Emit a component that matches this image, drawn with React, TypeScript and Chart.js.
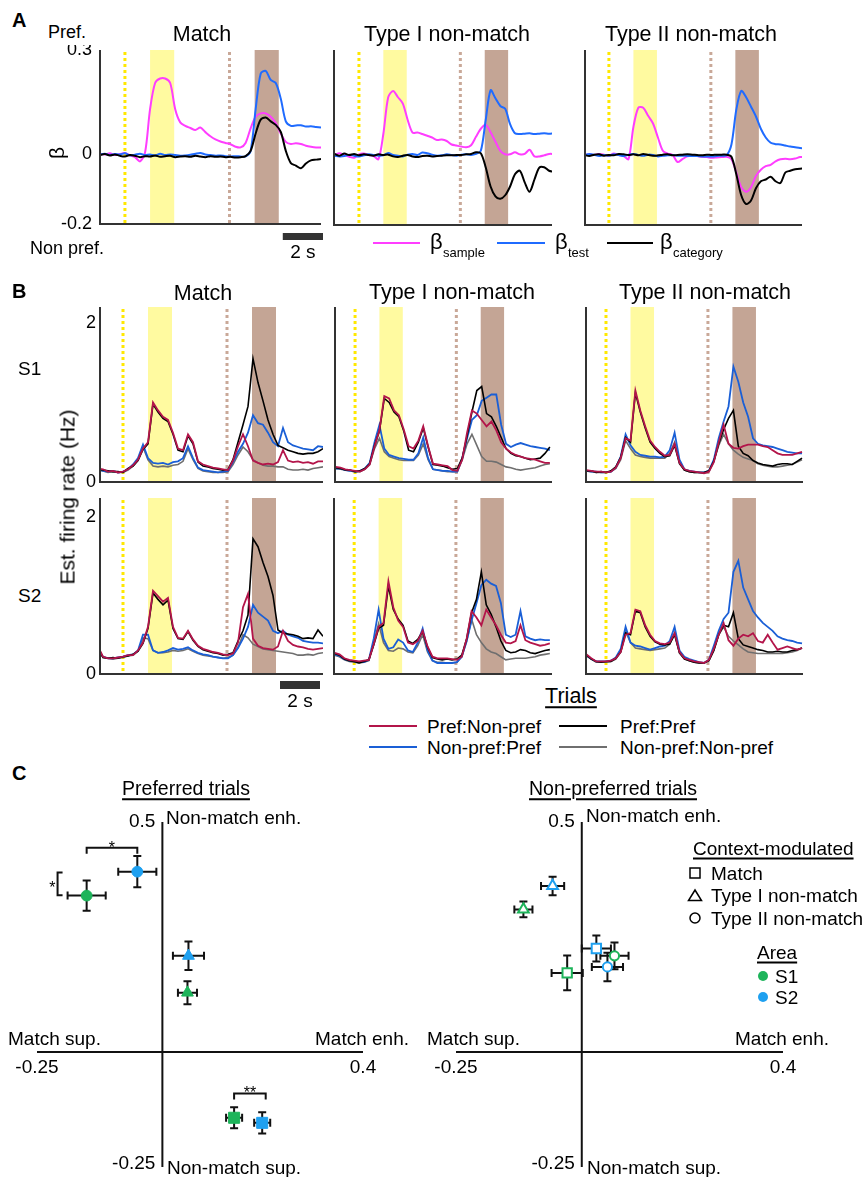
import React, { useEffect, useRef } from "react";
import { Chart, registerables } from "chart.js";
Chart.register(...registerables);

const FONT = '"Liberation Sans", Arial, Helvetica, sans-serif';

// ---------- time grid (s, relative to sample onset) ----------
const timeSec = [-2.5, -2.25, -2, -1.75, -1.5, -1.25, -1, -0.75, -0.5, -0.25, 0, 0.25, 0.5, 0.75, 1, 1.25, 1.5, 1.75, 2, 2.25, 2.5, 2.75, 3, 3.25, 3.5, 3.75, 4, 4.25, 4.5, 4.75, 5, 5.25, 5.5, 5.75, 6, 6.25, 6.5, 6.75, 7, 7.25, 7.5, 7.75, 8, 8.25, 8.5, 8.75];
const fixationOnset = -1.25;
const sampleWindow = [0, 1.2];
const delayMarker = 3.95;
const testWindow = [5.2, 6.4];

// ---------- Panel A: regression coefficients ----------
const betaTicks = [0.3, 0, -0.2];
const betaTickText = ["0.3", "0", "-0.2"];
const aMatchSample = [0.002, 0.0, 0.003, -0.002, 0.001, 0.004, -0.003, -0.008, -0.02, 0.005, 0.13, 0.205, 0.218, 0.218, 0.205, 0.13, 0.092, 0.082, 0.076, 0.07, 0.077, 0.064, 0.052, 0.043, 0.037, 0.033, 0.029, 0.022, 0.02, 0.033, 0.075, 0.108, 0.118, 0.118, 0.108, 0.09, 0.06, 0.036, 0.03, 0.032, 0.03, 0.025, 0.022, 0.02, 0.02, 0.02];
const aMatchTest = [0.0, 0.002, -0.002, 0.001, 0.0, 0.003, -0.003, -0.001, 0.002, -0.002, 0.0, -0.003, 0.002, -0.002, 0.0, -0.002, -0.004, -0.003, -0.001, 0.002, 0.004, 0.0, -0.002, -0.004, -0.003, -0.005, -0.006, -0.005, -0.006, -0.006, 0.01, 0.13, 0.232, 0.24, 0.214, 0.205, 0.16, 0.095, 0.082, 0.083, 0.084, 0.08, 0.081, 0.079, 0.077, 0.075];
const aMatchCategory = [-0.002, 0.001, -0.003, 0.0, -0.004, -0.006, -0.002, -0.004, -0.008, -0.005, -0.006, -0.003, -0.007, -0.005, -0.004, -0.008, -0.006, -0.005, -0.007, -0.004, -0.006, -0.008, -0.005, -0.007, -0.006, -0.008, -0.007, -0.009, -0.008, -0.005, 0.01, 0.06, 0.1, 0.106, 0.095, 0.085, 0.065, 0.01, -0.025, -0.032, -0.04, -0.026, -0.017, -0.015, -0.013, -0.012];
const aType1Sample = [0.0, 0.005, 0.0, -0.005, -0.008, 0.002, 0.004, 0.0, -0.003, -0.012, 0.06, 0.165, 0.183, 0.165, 0.147, 0.1, 0.064, 0.064, 0.06, 0.055, 0.05, 0.043, 0.044, 0.04, 0.03, 0.027, 0.024, 0.022, 0.028, 0.052, 0.075, 0.086, 0.065, 0.038, 0.012, 0.002, 0.002, 0.008, 0.002, 0.003, 0.015, -0.004, -0.004, -0.001, 0.003, 0.003];
const aType1Test = [-0.002, -0.004, -0.003, 0.001, -0.002, -0.004, -0.001, 0.002, 0.0, -0.002, -0.001, 0.006, 0.0, -0.002, -0.004, 0.001, 0.003, 0.0, 0.007, 0.005, 0.001, -0.002, -0.001, 0.002, 0.0, -0.002, 0.001, 0.002, 0.0, 0.003, 0.012, 0.1, 0.185, 0.162, 0.14, 0.132, 0.088, 0.062, 0.06, 0.061, 0.062, 0.06, 0.061, 0.062, 0.061, 0.062];
const aType1Category = [0.003, -0.002, 0.004, 0.0, 0.003, -0.001, 0.002, 0.0, -0.002, 0.002, 0.0, 0.001, -0.004, -0.006, -0.002, 0.0, -0.004, -0.006, -0.003, -0.002, -0.004, -0.003, -0.002, -0.001, -0.001, 0.0, 0.0, 0.002, 0.003, 0.008, 0.005, -0.035, -0.09, -0.118, -0.125, -0.115, -0.09, -0.055, -0.045, -0.078, -0.105, -0.07, -0.036, -0.035, -0.045, -0.048];
const aType2Sample = [0.0, 0.002, 0.0, 0.003, 0.001, -0.002, 0.004, 0.0, -0.003, -0.012, 0.08, 0.135, 0.135, 0.112, 0.09, 0.05, 0.012, 0.004, 0.0, -0.02, -0.012, -0.004, -0.002, -0.003, -0.005, -0.006, -0.008, -0.007, -0.006, -0.005, -0.012, -0.05, -0.092, -0.105, -0.092, -0.06, -0.042, -0.032, -0.028, -0.018, -0.012, -0.011, -0.012, -0.01, -0.006, -0.005];
const aType2Test = [0.0, 0.003, 0.001, -0.003, 0.0, -0.002, 0.002, 0.0, -0.003, 0.001, 0.003, 0.0, -0.002, 0.001, 0.0, -0.004, -0.002, -0.001, 0.0, -0.002, -0.002, -0.003, -0.003, -0.003, -0.004, -0.004, -0.004, -0.003, -0.002, -0.001, 0.03, 0.13, 0.183, 0.165, 0.138, 0.11, 0.075, 0.05, 0.035, 0.031, 0.03, 0.027, 0.024, 0.022, 0.02, 0.019];
const aType2Category = [0.0, -0.003, 0.001, 0.002, -0.002, 0.0, -0.001, 0.003, 0.002, 0.0, 0.002, -0.001, 0.003, 0.0, -0.002, -0.001, 0.001, 0.002, -0.001, 0.0, 0.001, 0.002, 0.001, 0.0, -0.001, 0.001, 0.0, 0.001, 0.001, 0.001, -0.005, -0.055, -0.115, -0.14, -0.13, -0.095, -0.075, -0.07, -0.062, -0.075, -0.08, -0.05, -0.045, -0.041, -0.039, -0.038];

// ---------- Panel B: estimated firing rates (Hz) ----------
const rateTicks = [2, 0];
const rateTickText = ["2", "0"];
const s1MatchPrefNon = [0.17, 0.16, 0.13, 0.14, 0.12, 0.13, 0.16, 0.21, 0.28, 0.42, 0.5, 1.0, 0.9, 0.82, 0.78, 0.62, 0.42, 0.4, 0.6, 0.5, 0.26, 0.22, 0.2, 0.18, 0.17, 0.16, 0.15, 0.27, 0.45, 0.6, 0.45, 0.27, 0.24, 0.22, 0.23, 0.22, 0.25, 0.4, 0.27, 0.25, 0.26, 0.24, 0.25, 0.23, 0.26, 0.26];
const s1MatchPrefPref = [0.16, 0.15, 0.14, 0.13, 0.13, 0.12, 0.17, 0.2, 0.27, 0.41, 0.48, 0.98, 0.88, 0.8, 0.76, 0.6, 0.4, 0.38, 0.58, 0.48, 0.25, 0.2, 0.19, 0.17, 0.16, 0.15, 0.16, 0.28, 0.5, 0.72, 0.95, 1.55, 1.25, 1.02, 0.78, 0.6, 0.46, 0.43, 0.4, 0.38, 0.36, 0.35, 0.36, 0.36, 0.38, 0.42];
const s1MatchNonPref = [0.16, 0.14, 0.13, 0.14, 0.12, 0.13, 0.16, 0.22, 0.3, 0.47, 0.3, 0.24, 0.23, 0.24, 0.22, 0.25, 0.26, 0.3, 0.45, 0.3, 0.18, 0.15, 0.14, 0.13, 0.12, 0.13, 0.14, 0.25, 0.38, 0.48, 0.62, 0.84, 0.74, 0.72, 0.62, 0.5, 0.45, 0.68, 0.5, 0.46, 0.44, 0.42, 0.41, 0.4, 0.45, 0.44];
const s1MatchNonNon = [0.15, 0.14, 0.12, 0.13, 0.12, 0.12, 0.15, 0.2, 0.28, 0.44, 0.28, 0.2, 0.19, 0.2, 0.19, 0.21, 0.22, 0.26, 0.42, 0.28, 0.17, 0.14, 0.13, 0.12, 0.12, 0.12, 0.13, 0.22, 0.34, 0.44, 0.38, 0.28, 0.24, 0.21, 0.2, 0.2, 0.19, 0.19, 0.16, 0.15, 0.15, 0.16, 0.15, 0.17, 0.18, 0.19];
const s1Type1PrefNon = [0.2, 0.19, 0.18, 0.16, 0.15, 0.14, 0.13, 0.16, 0.22, 0.45, 0.65, 1.08, 1.05, 0.9, 0.84, 0.66, 0.45, 0.42, 0.52, 0.7, 0.45, 0.23, 0.22, 0.21, 0.2, 0.15, 0.14, 0.28, 0.62, 0.9, 0.86, 0.78, 0.7, 0.76, 0.65, 0.5, 0.42, 0.37, 0.34, 0.32, 0.3, 0.29, 0.28, 0.26, 0.24, 0.24];
const s1Type1PrefPref = [0.19, 0.18, 0.17, 0.15, 0.15, 0.13, 0.14, 0.17, 0.23, 0.46, 0.64, 1.05, 1.0, 0.88, 0.82, 0.64, 0.4, 0.38, 0.5, 0.68, 0.44, 0.22, 0.21, 0.2, 0.18, 0.16, 0.17, 0.3, 0.58, 0.88, 1.15, 1.2, 0.86, 0.82, 0.7, 0.56, 0.42, 0.36, 0.33, 0.32, 0.3, 0.28, 0.29, 0.3, 0.36, 0.44];
const s1Type1NonPref = [0.18, 0.17, 0.17, 0.15, 0.14, 0.13, 0.14, 0.17, 0.24, 0.5, 0.72, 0.42, 0.34, 0.32, 0.3, 0.29, 0.28, 0.28, 0.36, 0.56, 0.3, 0.16, 0.15, 0.14, 0.14, 0.13, 0.13, 0.3, 0.55, 0.78, 0.84, 1.02, 1.06, 1.1, 1.1, 0.72, 0.48, 0.44, 0.47, 0.49, 0.47, 0.45, 0.44, 0.43, 0.42, 0.4];
const s1Type1NonNon = [0.18, 0.17, 0.16, 0.15, 0.14, 0.13, 0.13, 0.16, 0.22, 0.42, 0.55, 0.38, 0.32, 0.3, 0.28, 0.27, 0.27, 0.27, 0.34, 0.48, 0.28, 0.16, 0.15, 0.14, 0.13, 0.13, 0.13, 0.28, 0.48, 0.6, 0.46, 0.32, 0.26, 0.26, 0.25, 0.22, 0.19, 0.18, 0.16, 0.15, 0.16, 0.17, 0.18, 0.2, 0.22, 0.23];
const s1Type2PrefNon = [0.16, 0.15, 0.14, 0.13, 0.13, 0.12, 0.13, 0.18, 0.3, 0.55, 0.52, 1.15, 0.9, 0.7, 0.52, 0.44, 0.38, 0.33, 0.34, 0.48, 0.24, 0.16, 0.14, 0.13, 0.12, 0.11, 0.13, 0.25, 0.5, 0.72, 0.48, 0.43, 0.42, 0.45, 0.47, 0.47, 0.47, 0.45, 0.44, 0.4, 0.36, 0.34, 0.34, 0.34, 0.36, 0.38];
const s1Type2PrefPref = [0.15, 0.14, 0.14, 0.12, 0.13, 0.12, 0.14, 0.19, 0.31, 0.56, 0.5, 1.12, 0.88, 0.68, 0.5, 0.42, 0.36, 0.32, 0.33, 0.46, 0.23, 0.15, 0.13, 0.12, 0.12, 0.12, 0.14, 0.26, 0.48, 0.66, 0.8, 0.9, 0.45, 0.36, 0.33, 0.27, 0.24, 0.22, 0.21, 0.2, 0.22, 0.23, 0.23, 0.22, 0.26, 0.3];
const s1Type2NonPref = [0.15, 0.14, 0.13, 0.13, 0.12, 0.12, 0.13, 0.18, 0.32, 0.6, 0.46, 0.38, 0.34, 0.33, 0.32, 0.32, 0.31, 0.32, 0.4, 0.62, 0.28, 0.16, 0.14, 0.13, 0.12, 0.12, 0.14, 0.28, 0.55, 0.76, 0.95, 1.45, 1.26, 1.0, 0.82, 0.55, 0.48, 0.46, 0.45, 0.44, 0.42, 0.4, 0.38, 0.37, 0.36, 0.36];
const s1Type2NonNon = [0.15, 0.14, 0.13, 0.12, 0.12, 0.12, 0.13, 0.17, 0.28, 0.52, 0.42, 0.34, 0.32, 0.31, 0.3, 0.3, 0.3, 0.3, 0.36, 0.5, 0.25, 0.15, 0.13, 0.12, 0.12, 0.11, 0.13, 0.26, 0.46, 0.6, 0.48, 0.4, 0.35, 0.31, 0.29, 0.27, 0.23, 0.21, 0.2, 0.19, 0.19, 0.2, 0.21, 0.22, 0.25, 0.28];
const s2MatchPrefNon = [0.35, 0.22, 0.2, 0.2, 0.21, 0.22, 0.24, 0.24, 0.3, 0.4, 0.6, 1.06, 0.99, 0.92, 0.97, 0.6, 0.46, 0.45, 0.55, 0.44, 0.36, 0.32, 0.3, 0.28, 0.27, 0.25, 0.24, 0.26, 0.4, 0.85, 1.02, 0.45, 0.36, 0.33, 0.32, 0.31, 0.35, 0.55, 0.42, 0.37, 0.35, 0.34, 0.32, 0.31, 0.32, 0.33];
const s2MatchPrefPref = [0.34, 0.21, 0.2, 0.21, 0.2, 0.22, 0.23, 0.25, 0.29, 0.39, 0.58, 1.03, 0.95, 0.88, 0.94, 0.58, 0.45, 0.44, 0.54, 0.43, 0.35, 0.31, 0.29, 0.27, 0.26, 0.24, 0.25, 0.27, 0.42, 0.55, 0.75, 1.72, 1.62, 1.42, 1.24, 1.0, 0.56, 0.52, 0.51, 0.5, 0.48, 0.45, 0.46, 0.45, 0.56, 0.48];
const s2MatchNonPref = [0.32, 0.22, 0.2, 0.2, 0.21, 0.22, 0.24, 0.25, 0.3, 0.5, 0.5, 0.3, 0.27, 0.28, 0.3, 0.33, 0.31, 0.32, 0.34, 0.3, 0.27, 0.25, 0.24, 0.22, 0.21, 0.2, 0.2, 0.24, 0.33, 0.45, 0.6, 0.88, 0.78, 0.73, 0.68, 0.55, 0.52, 0.55, 0.5, 0.48, 0.46, 0.42, 0.41, 0.4, 0.4, 0.39];
const s2MatchNonNon = [0.3, 0.21, 0.2, 0.19, 0.2, 0.21, 0.23, 0.24, 0.29, 0.46, 0.45, 0.3, 0.27, 0.27, 0.28, 0.3, 0.29, 0.3, 0.32, 0.29, 0.26, 0.24, 0.23, 0.22, 0.21, 0.2, 0.21, 0.24, 0.34, 0.5, 0.46, 0.38, 0.35, 0.32, 0.31, 0.3, 0.29, 0.28, 0.27, 0.26, 0.24, 0.24, 0.25, 0.24, 0.26, 0.27];
const s2Type1PrefNon = [0.28, 0.27, 0.25, 0.2, 0.18, 0.17, 0.16, 0.17, 0.18, 0.38, 0.6, 0.65, 1.18, 0.85, 0.68, 0.6, 0.4, 0.38, 0.42, 0.55, 0.35, 0.22, 0.2, 0.2, 0.2, 0.19, 0.18, 0.22, 0.45, 0.8, 0.72, 0.62, 0.82, 0.72, 0.62, 0.5, 0.4, 0.39, 0.42, 0.62, 0.43, 0.4, 0.38, 0.36, 0.37, 0.39];
const s2Type1PrefPref = [0.27, 0.26, 0.24, 0.19, 0.17, 0.16, 0.14, 0.16, 0.18, 0.37, 0.58, 0.62, 1.12, 0.82, 0.7, 0.62, 0.42, 0.39, 0.44, 0.54, 0.34, 0.21, 0.19, 0.18, 0.19, 0.18, 0.19, 0.24, 0.45, 0.78, 0.95, 1.3, 0.88, 0.76, 0.6, 0.42, 0.3, 0.27, 0.28, 0.31, 0.3, 0.27, 0.26, 0.28, 0.3, 0.31];
const s2Type1NonPref = [0.26, 0.25, 0.23, 0.19, 0.17, 0.16, 0.15, 0.15, 0.18, 0.45, 0.82, 0.45, 0.32, 0.34, 0.44, 0.4, 0.3, 0.28, 0.4, 0.58, 0.3, 0.17, 0.14, 0.14, 0.14, 0.14, 0.15, 0.22, 0.42, 0.68, 0.9, 1.13, 1.2, 1.15, 1.12, 0.9, 0.5, 0.47, 0.5, 0.8, 0.48, 0.45, 0.43, 0.44, 0.43, 0.43];
const s2Type1NonNon = [0.26, 0.24, 0.22, 0.18, 0.16, 0.15, 0.14, 0.15, 0.17, 0.4, 0.64, 0.4, 0.3, 0.29, 0.33, 0.32, 0.28, 0.27, 0.36, 0.5, 0.28, 0.17, 0.15, 0.15, 0.14, 0.14, 0.15, 0.22, 0.42, 0.7, 0.5, 0.4, 0.32, 0.28, 0.26, 0.22, 0.18, 0.19, 0.2, 0.2, 0.2, 0.21, 0.22, 0.24, 0.25, 0.26];
const s2Type2PrefNon = [0.26, 0.25, 0.2, 0.16, 0.16, 0.16, 0.17, 0.2, 0.28, 0.5, 0.52, 0.82, 0.8, 0.62, 0.5, 0.42, 0.39, 0.38, 0.4, 0.52, 0.28, 0.2, 0.18, 0.16, 0.15, 0.14, 0.18, 0.32, 0.5, 0.65, 0.43, 0.36, 0.45, 0.5, 0.48, 0.52, 0.42, 0.4, 0.5, 0.4, 0.31, 0.33, 0.35, 0.33, 0.31, 0.33];
const s2Type2PrefPref = [0.25, 0.24, 0.19, 0.16, 0.15, 0.16, 0.16, 0.2, 0.28, 0.52, 0.5, 0.8, 0.78, 0.6, 0.48, 0.41, 0.38, 0.37, 0.38, 0.5, 0.27, 0.19, 0.17, 0.15, 0.14, 0.14, 0.17, 0.3, 0.5, 0.62, 0.6, 0.78, 0.45, 0.37, 0.35, 0.33, 0.31, 0.3, 0.28, 0.28, 0.29, 0.28, 0.28, 0.3, 0.31, 0.33];
const s2Type2NonPref = [0.25, 0.24, 0.19, 0.16, 0.16, 0.16, 0.17, 0.21, 0.32, 0.6, 0.4, 0.36, 0.35, 0.33, 0.31, 0.33, 0.35, 0.36, 0.42, 0.6, 0.3, 0.22, 0.19, 0.17, 0.15, 0.14, 0.18, 0.36, 0.55, 0.7, 0.78, 1.3, 1.44, 1.1, 0.95, 0.8, 0.72, 0.65, 0.6, 0.55, 0.48, 0.45, 0.43, 0.42, 0.4, 0.39];
const s2Type2NonNon = [0.24, 0.23, 0.19, 0.15, 0.15, 0.15, 0.16, 0.19, 0.28, 0.54, 0.4, 0.33, 0.32, 0.31, 0.3, 0.31, 0.32, 0.33, 0.38, 0.52, 0.27, 0.2, 0.17, 0.15, 0.14, 0.14, 0.17, 0.3, 0.5, 0.6, 0.48, 0.42, 0.37, 0.32, 0.28, 0.27, 0.26, 0.26, 0.26, 0.26, 0.26, 0.26, 0.27, 0.28, 0.3, 0.33];

// ---------- Panel C: context modulation indices ----------
// order of points in every array: Match, Type I non-match, Type II non-match
const contextStyles = ["rect", "triangle", "circle"];
const prefS1X = [0.143, 0.05, -0.151];
const prefS1Y = [-0.143, 0.129, 0.34];
const prefS1XErr = [0.016, 0.019, 0.038];
const prefS1YErr = [0.023, 0.025, 0.033];
const prefS2X = [0.199, 0.052, -0.05];
const prefS2Y = [-0.154, 0.209, 0.392];
const prefS2XErr = [0.016, 0.031, 0.038];
const prefS2YErr = [0.023, 0.031, 0.034];
const nonprefS1X = [-0.029, -0.116, 0.065];
const nonprefS1Y = [0.172, 0.31, 0.209];
const nonprefS1XErr = [0.031, 0.018, 0.028];
const nonprefS1YErr = [0.038, 0.017, 0.029];
const nonprefS2X = [0.029, -0.058, 0.051];
const nonprefS2Y = [0.225, 0.361, 0.185];
const nonprefS2XErr = [0.029, 0.023, 0.031];
const nonprefS2YErr = [0.028, 0.02, 0.031];
const prefBrackets = [
  { kind: "h", from: -0.151, to: -0.05, at: 0.444, label: "*" },
  { kind: "v", from: 0.39, to: 0.341, at: -0.209, label: "*" },
  { kind: "h", from: 0.143, to: 0.206, at: -0.09, label: "**" },
];

// ---------- colours ----------
const COL_SAMPLE = "#ff3dff";
const COL_TEST = "#1f6bff";
const COL_CAT = "#000000";
const COL_PN = "#b3154a";
const COL_PP = "#000000";
const COL_NP = "#1a5fd6";
const COL_NN = "#6f6f6f";
const COL_S1 = "#1db45a";
const COL_S2 = "#1ea0f0";
const SAMPLE_BAND = "#fffaa0";
const TEST_BAND = "#c4a595";
const FIX_LINE = "#ffe800";
const DELAY_LINE = "#c9a898";
const AXIS = "#333333";

// ---------- plugins ----------
const trialFramePlugin = {
  id: "trialFrame",
  beforeDatasetsDraw(chart: any) {
    const { ctx, chartArea: a } = chart;
    const x = chart.scales.x;
    ctx.save();
    const band = (w: number[], color: string) => {
      const p0 = x.getPixelForValue(w[0]);
      const p1 = x.getPixelForValue(w[1]);
      ctx.fillStyle = color;
      ctx.fillRect(p0, a.top, p1 - p0, a.bottom - a.top);
    };
    band(sampleWindow, SAMPLE_BAND);
    band(testWindow, TEST_BAND);
    const dotted = (t: number, color: string) => {
      const p = x.getPixelForValue(t);
      ctx.strokeStyle = color;
      ctx.lineWidth = 3;
      ctx.setLineDash([3, 3]);
      ctx.beginPath();
      ctx.moveTo(p, a.top + 2);
      ctx.lineTo(p, a.bottom);
      ctx.stroke();
    };
    dotted(fixationOnset, FIX_LINE);
    dotted(delayMarker, DELAY_LINE);
    ctx.restore();
  },
  afterDatasetsDraw(chart: any, _args: any, opts: any) {
    const { ctx, chartArea: a } = chart;
    const x = chart.scales.x;
    const y = chart.scales.y;
    ctx.save();
    ctx.setLineDash([]);
    ctx.strokeStyle = AXIS;
    ctx.lineWidth = 2;
    ctx.beginPath();
    ctx.moveTo(a.left, a.top);
    ctx.lineTo(a.left, a.bottom);
    ctx.lineTo(a.right, a.bottom);
    ctx.stroke();
    ctx.fillStyle = "#000";
    ctx.font = `${opts.tickSize || 18}px ${FONT}`;
    ctx.textAlign = "right";
    ctx.textBaseline = "middle";
    (opts.yTicks || []).forEach((v: number, i: number) => {
      ctx.fillText(opts.yTickText[i], a.left - opts.tickGap, y.getPixelForValue(v));
    });
    if (opts.scaleBar) {
      const sb = opts.scaleBar;
      const len = x.getPixelForValue(x.min + sb.seconds) - x.getPixelForValue(x.min);
      const right = a.right + sb.dx;
      ctx.fillStyle = "#333";
      ctx.fillRect(right - len, a.bottom + sb.dy, len, sb.h);
      ctx.fillStyle = "#000";
      ctx.textAlign = "center";
      ctx.font = `19px ${FONT}`;
      ctx.fillText(sb.label, right - len / 2, a.bottom + sb.labelDy);
    }
    ctx.restore();
  },
};

const quadrantPlugin = {
  id: "quadrant",
  beforeDatasetsDraw(chart: any, _args: any, opts: any) {
    const { ctx } = chart;
    const x = chart.scales.x;
    const y = chart.scales.y;
    const x0 = x.getPixelForValue(0);
    const y0 = y.getPixelForValue(0);
    ctx.save();
    ctx.strokeStyle = "#111";
    ctx.lineWidth = 2;
    ctx.beginPath();
    ctx.moveTo(x.getPixelForValue(x.min), y0);
    ctx.lineTo(x.getPixelForValue(x.max), y0);
    ctx.moveTo(x0, y.getPixelForValue(y.max));
    ctx.lineTo(x0, y.getPixelForValue(y.min));
    ctx.stroke();
    // end tick labels
    ctx.fillStyle = "#000";
    ctx.font = `19px ${FONT}`;
    ctx.textBaseline = "middle";
    ctx.textAlign = "center";
    [x.min, x.max].forEach((v: number) => ctx.fillText(opts.fmt(v), x.getPixelForValue(v), y0 + 16));
    ctx.textAlign = "right";
    ctx.fillText(opts.fmt(y.max), x0 - 7, y.getPixelForValue(y.max));
    ctx.fillText(opts.fmt(y.min), x0 - 7, y.getPixelForValue(y.min) - 3);
    // error bars
    ctx.strokeStyle = "#111";
    ctx.lineWidth = 2;
    const cap = 4;
    chart.data.datasets.forEach((ds: any) => {
      ds.data.forEach((pt: any, i: number) => {
        const px = x.getPixelForValue(pt.x);
        const py = y.getPixelForValue(pt.y);
        const xl = x.getPixelForValue(pt.x - ds.xErr[i]);
        const xr = x.getPixelForValue(pt.x + ds.xErr[i]);
        const yt = y.getPixelForValue(pt.y + ds.yErr[i]);
        const yb = y.getPixelForValue(pt.y - ds.yErr[i]);
        ctx.beginPath();
        ctx.moveTo(xl, py); ctx.lineTo(xr, py);
        ctx.moveTo(xl, py - cap); ctx.lineTo(xl, py + cap);
        ctx.moveTo(xr, py - cap); ctx.lineTo(xr, py + cap);
        ctx.moveTo(px, yt); ctx.lineTo(px, yb);
        ctx.moveTo(px - cap, yt); ctx.lineTo(px + cap, yt);
        ctx.moveTo(px - cap, yb); ctx.lineTo(px + cap, yb);
        ctx.stroke();
      });
    });
    // significance brackets
    (opts.brackets || []).forEach((b: any) => {
      ctx.lineWidth = 2;
      ctx.beginPath();
      ctx.font = `16px ${FONT}`;
      ctx.textBaseline = "alphabetic";
      if (b.kind === "h") {
        const a1 = x.getPixelForValue(b.from);
        const a2 = x.getPixelForValue(b.to);
        const yy = y.getPixelForValue(b.at);
        ctx.moveTo(a1, yy + 6); ctx.lineTo(a1, yy); ctx.lineTo(a2, yy); ctx.lineTo(a2, yy + 6);
        ctx.stroke();
        ctx.textAlign = "center";
        ctx.fillText(b.label, (a1 + a2) / 2, yy + 5);
      } else {
        const b1 = y.getPixelForValue(b.from);
        const b2 = y.getPixelForValue(b.to);
        const xx = x.getPixelForValue(b.at);
        ctx.moveTo(xx + 5, b1); ctx.lineTo(xx, b1); ctx.lineTo(xx, b2); ctx.lineTo(xx + 5, b2);
        ctx.stroke();
        ctx.textAlign = "right";
        ctx.fillText(b.label, xx - 2, (b1 + b2) / 2 + 9);
      }
    });
    ctx.restore();
  },
};

// ---------- config builders ----------
type Series = { data: number[]; color: string; width: number };
type Pad = { left: number; right: number; top: number; bottom: number };

function timeConfig(p: {
  series: Series[]; xMin: number; xMax: number; yMin: number; yMax: number; pad: Pad;
  yTicks?: number[]; yTickText?: string[]; tickGap?: number; tension: number; scaleBar?: any;
}) {
  return {
    type: "line",
    data: {
      datasets: p.series.map((s) => ({
        data: timeSec.map((t, i) => ({ x: t, y: s.data[i] })),
        borderColor: s.color,
        borderWidth: s.width,
        pointRadius: 0,
        tension: p.tension,
        fill: false,
      })),
    },
    options: {
      responsive: false,
      animation: false,
      devicePixelRatio: 1,
      events: [],
      layout: { padding: p.pad },
      scales: {
        x: { type: "linear", min: p.xMin, max: p.xMax, display: false },
        y: { type: "linear", min: p.yMin, max: p.yMax, display: false },
      },
      plugins: {
        legend: { display: false },
        tooltip: { enabled: false },
        trialFrame: { yTicks: p.yTicks || [], yTickText: p.yTickText || [], tickGap: p.tickGap || 6, scaleBar: p.scaleBar },
      },
    },
    plugins: [trialFramePlugin],
  };
}

function areaDataset(label: string, xs: number[], ys: number[], xErr: number[], yErr: number[], color: string, filled: boolean) {
  return {
    label,
    data: xs.map((v, i) => ({ x: v, y: ys[i] })),
    xErr,
    yErr,
    pointStyle: contextStyles,
    pointRadius: filled ? [7.8, 6.8, 5.4] : [6.6, 6.2, 4.6],
    backgroundColor: filled ? color : "#ffffff",
    borderColor: color,
    borderWidth: filled ? 1 : 2,
    showLine: false,
  };
}

function scatterConfig(datasets: any[], pad: Pad, brackets: any[]) {
  return {
    type: "scatter",
    data: { datasets },
    options: {
      responsive: false,
      animation: false,
      devicePixelRatio: 1,
      events: [],
      layout: { padding: pad },
      scales: {
        x: { type: "linear", min: -0.25, max: 0.4, display: false },
        y: { type: "linear", min: -0.25, max: 0.5, display: false },
      },
      plugins: {
        legend: { display: false },
        tooltip: { enabled: false },
        quadrant: { brackets, fmt: (v: number) => String(v) },
      },
    },
    plugins: [quadrantPlugin],
  };
}

// ---------- components ----------
function ChartBox(props: { left: number; top: number; width: number; height: number; make: () => any }) {
  const ref = useRef<HTMLCanvasElement>(null);
  useEffect(() => {
    const chart = new Chart(ref.current as HTMLCanvasElement, props.make());
    return () => chart.destroy();
  }, []);
  return (
    <canvas
      ref={ref}
      width={props.width}
      height={props.height}
      style={{ position: "absolute", left: props.left, top: props.top, width: props.width, height: props.height }}
    />
  );
}

function Txt(props: { x: number; y: number; children: any; size?: number; align?: string; bold?: boolean; underline?: boolean; rotate?: number }) {
  const { x, y, size = 19, align = "left", bold, underline, rotate } = props;
  const tx = align === "left" ? "0" : align === "center" ? "-50%" : "-100%";
  return (
    <div
      style={{
        position: "absolute",
        left: x,
        top: y,
        transform: `translate(${tx}, -50%)` + (rotate ? ` rotate(${rotate}deg)` : ""),
        fontSize: size,
        lineHeight: 1,
        whiteSpace: "nowrap",
        fontFamily: FONT,
        fontWeight: bold ? 700 : 400,
        textDecoration: underline ? "underline" : "none",
        textUnderlineOffset: "3px",
        textDecorationThickness: "1.5px",
        color: "#000",
      }}
    >
      {props.children}
    </div>
  );
}

function LegendLine(props: { x1: number; x2: number; y: number; color: string }) {
  return <div style={{ position: "absolute", left: props.x1, top: props.y - 1, width: props.x2 - props.x1, height: 2, background: props.color }} />;
}

const padA = { left: 5, right: 5, top: 5, bottom: 5 };

export default function App() {
  const aSeries = (cat: number[], test: number[], samp: number[]) => [
    { data: cat, color: COL_CAT, width: 2 },
    { data: test, color: COL_TEST, width: 2 },
    { data: samp, color: COL_SAMPLE, width: 2 },
  ];
  const bSeries = (pn: number[], pp: number[], np: number[], nn: number[]) => [
    { data: pn, color: COL_PN, width: 1.8 },
    { data: pp, color: COL_PP, width: 1.6 },
    { data: np, color: COL_NP, width: 1.8 },
    { data: nn, color: COL_NN, width: 1.6 },
  ];
  return (
    <div style={{ position: "absolute", left: 0, top: 0, width: 866, height: 1177, overflow: "hidden", background: "#fff" }}>
      {/* ---------------- Panel A ---------------- */}
      <ChartBox left={40} top={45} width={290} height={217} make={() => timeConfig({
        series: aSeries(aMatchCategory, aMatchTest, aMatchSample), xMin: -2.49, xMax: 8.5, yMin: -0.2, yMax: 0.3,
        pad: { left: 60, right: 9, top: 5, bottom: 38 }, yTicks: betaTicks, yTickText: betaTickText, tickGap: 8, tension: 0.3,
        scaleBar: { seconds: 2, dx: 2, dy: 9, h: 7, label: "2 s", labelDy: 29 },
      })} />
      <ChartBox left={329} top={45} width={228} height={185} make={() => timeConfig({
        series: aSeries(aType1Category, aType1Test, aType1Sample), xMin: -2.53, xMax: 8.65, yMin: -0.2, yMax: 0.3, pad: padA, tension: 0.3,
      })} />
      <ChartBox left={580} top={45} width={227} height={185} make={() => timeConfig({
        series: aSeries(aType2Category, aType2Test, aType2Sample), xMin: -2.47, xMax: 8.6, yMin: -0.2, yMax: 0.3, pad: padA, tension: 0.3,
      })} />
      <Txt x={12} y={20} bold size={20}>A</Txt>
      <Txt x={48} y={32} size={18}>Pref.</Txt>
      <Txt x={30} y={248} size={18}>Non pref.</Txt>
      <Txt x={56} y={153} size={21} align="center" rotate={-90}>β</Txt>
      <Txt x={202} y={35} size={21.5} align="center">Match</Txt>
      <Txt x={447} y={35} size={21.5} align="center">Type I non-match</Txt>
      <Txt x={691} y={35} size={21.5} align="center">Type II non-match</Txt>
      <LegendLine x1={373} x2={420} y={243} color={COL_SAMPLE} />
      <Txt x={430} y={242} size={22}>β</Txt>
      <Txt x={443} y={252} size={13}>sample</Txt>
      <LegendLine x1={497} x2={545} y={243} color={COL_TEST} />
      <Txt x={555} y={242} size={22}>β</Txt>
      <Txt x={568} y={252} size={13}>test</Txt>
      <LegendLine x1={607} x2={653} y={243} color={COL_CAT} />
      <Txt x={660} y={242} size={22}>β</Txt>
      <Txt x={673} y={252} size={13}>category</Txt>

      {/* ---------------- Panel B ---------------- */}
      <ChartBox left={70} top={302} width={258} height={185} make={() => timeConfig({
        series: bSeries(s1MatchPrefNon, s1MatchPrefPref, s1MatchNonPref, s1MatchNonNon), xMin: -2.4, xMax: 8.75, yMin: 0, yMax: 2.2,
        pad: { left: 30, right: 5, top: 5, bottom: 5 }, yTicks: rateTicks, yTickText: rateTickText, tickGap: 4, tension: 0,
      })} />
      <ChartBox left={330} top={302} width={227} height={185} make={() => timeConfig({
        series: bSeries(s1Type1PrefNon, s1Type1PrefPref, s1Type1NonPref, s1Type1NonNon), xMin: -2.28, xMax: 8.86, yMin: 0, yMax: 2.2, pad: padA, tension: 0,
      })} />
      <ChartBox left={581} top={302} width={227} height={185} make={() => timeConfig({
        series: bSeries(s1Type2PrefNon, s1Type2PrefPref, s1Type2NonPref, s1Type2NonNon), xMin: -2.27, xMax: 8.8, yMin: 0, yMax: 2.2, pad: padA, tension: 0,
      })} />
      <ChartBox left={70} top={493} width={258} height={216} make={() => timeConfig({
        series: bSeries(s2MatchPrefNon, s2MatchPrefPref, s2MatchNonPref, s2MatchNonNon), xMin: -2.4, xMax: 8.75, yMin: 0, yMax: 2.24,
        pad: { left: 30, right: 5, top: 5, bottom: 35 }, yTicks: rateTicks, yTickText: rateTickText, tickGap: 4, tension: 0,
        scaleBar: { seconds: 2, dx: -3, dy: 7, h: 8, label: "2 s", labelDy: 28 },
      })} />
      <ChartBox left={329} top={493} width={228} height={186} make={() => timeConfig({
        series: bSeries(s2Type1PrefNon, s2Type1PrefPref, s2Type1NonPref, s2Type1NonNon), xMin: -2.28, xMax: 8.86, yMin: 0, yMax: 2.24, pad: padA, tension: 0,
      })} />
      <ChartBox left={581} top={493} width={227} height={186} make={() => timeConfig({
        series: bSeries(s2Type2PrefNon, s2Type2PrefPref, s2Type2NonPref, s2Type2NonNon), xMin: -2.27, xMax: 8.8, yMin: 0, yMax: 2.24, pad: padA, tension: 0,
      })} />
      <Txt x={12} y={291} bold size={20}>B</Txt>
      <Txt x={203} y={294} size={21.5} align="center">Match</Txt>
      <Txt x={452} y={293} size={21.5} align="center">Type I non-match</Txt>
      <Txt x={705} y={293} size={21.5} align="center">Type II non-match</Txt>
      <Txt x={18} y={368} size={19}>S1</Txt>
      <Txt x={18} y={595} size={19}>S2</Txt>
      <Txt x={67} y={497} size={21} align="center" rotate={-90}>Est. firing rate (Hz)</Txt>
      <Txt x={571} y={697} size={21.5} align="center" underline>Trials</Txt>
      <LegendLine x1={369} x2={417} y={726} color={COL_PN} />
      <Txt x={427} y={726} size={19}>Pref:Non-pref</Txt>
      <LegendLine x1={559} x2={607} y={726} color={COL_PP} />
      <Txt x={620} y={726} size={19}>Pref:Pref</Txt>
      <LegendLine x1={369} x2={417} y={747} color={COL_NP} />
      <Txt x={427} y={747} size={19}>Non-pref:Pref</Txt>
      <LegendLine x1={559} x2={607} y={747} color={COL_NN} />
      <Txt x={620} y={747} size={19}>Non-pref:Non-pref</Txt>

      {/* ---------------- Panel C ---------------- */}
      <ChartBox left={0} top={800} width={420} height={377} make={() => scatterConfig([
        areaDataset("S1", prefS1X, prefS1Y, prefS1XErr, prefS1YErr, COL_S1, true),
        areaDataset("S2", prefS2X, prefS2Y, prefS2XErr, prefS2YErr, COL_S2, true),
      ], { left: 37, right: 57, top: 22, bottom: 10 }, prefBrackets)} />
      <ChartBox left={420} top={800} width={400} height={377} make={() => scatterConfig([
        areaDataset("S1", nonprefS1X, nonprefS1Y, nonprefS1XErr, nonprefS1YErr, COL_S1, false),
        areaDataset("S2", nonprefS2X, nonprefS2Y, nonprefS2XErr, nonprefS2YErr, COL_S2, false),
      ], { left: 36, right: 37, top: 22, bottom: 10 }, [])} />
      <Txt x={12} y={773} bold size={20}>C</Txt>
      <Txt x={186} y={789} size={19.5} align="center" underline>Preferred trials</Txt>
      <Txt x={166} y={817} size={19}>Non-match enh.</Txt>
      <Txt x={167} y={1167} size={19}>Non-match sup.</Txt>
      <Txt x={8} y={1038} size={19}>Match sup.</Txt>
      <Txt x={315} y={1038} size={19}>Match enh.</Txt>
      <Txt x={613} y={789} size={19.5} align="center" underline>Non-preferred trials</Txt>
      <Txt x={586} y={815} size={19}>Non-match enh.</Txt>
      <Txt x={587} y={1167} size={19}>Non-match sup.</Txt>
      <Txt x={427} y={1038} size={19}>Match sup.</Txt>
      <Txt x={735} y={1038} size={19}>Match enh.</Txt>
      <Txt x={693} y={848} size={19} underline>Context-modulated</Txt>
      <svg style={{ position: "absolute", left: 680, top: 860, width: 30, height: 70 }} width={30} height={70}>
        <rect x={10} y={8} width={10} height={10} fill="none" stroke="#000" strokeWidth={1.5} />
        <polygon points="15,30 21.5,40.5 8.5,40.5" fill="none" stroke="#000" strokeWidth={1.5} />
        <circle cx={15} cy={58} r={5} fill="none" stroke="#000" strokeWidth={1.5} />
      </svg>
      <Txt x={711} y={873} size={19}>Match</Txt>
      <Txt x={711} y={895} size={19}>Type I non-match</Txt>
      <Txt x={711} y={918} size={19}>Type II non-match</Txt>
      <Txt x={757} y={952} size={19} underline>Area</Txt>
      <div style={{ position: "absolute", left: 758, top: 971, width: 10, height: 10, borderRadius: 5, background: COL_S1 }} />
      <Txt x={775} y={976} size={19}>S1</Txt>
      <div style={{ position: "absolute", left: 758, top: 992, width: 10, height: 10, borderRadius: 5, background: COL_S2 }} />
      <Txt x={775} y={997} size={19}>S2</Txt>
    </div>
  );
}
